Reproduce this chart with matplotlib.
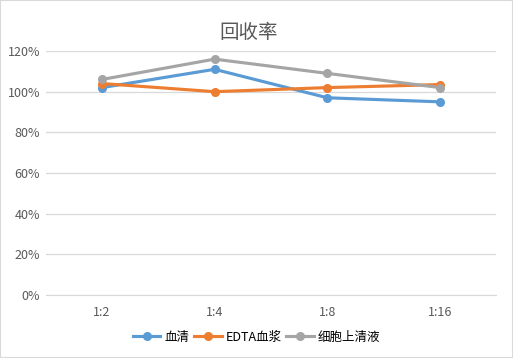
import matplotlib.pyplot as plt
from matplotlib.ticker import PercentFormatter

plt.rcParams['font.family'] = ['Noto Sans CJK SC', 'DejaVu Sans']

categories = ['1:2', '1:4', '1:8', '1:16']
serum = [102, 111, 97, 95]
edta_plasma = [104, 100, 102, 103.5]
supernatant = [106, 116, 109, 102]
series_names = ['血清', 'EDTA血浆', '细胞上清液']
colors = ['#5B9BD5', '#ED7D31', '#A5A5A5']

fig = plt.figure(figsize=(5.13, 3.58), dpi=100)
fig.patches.append(plt.Rectangle((0, 0), 1, 1, transform=fig.transFigure,
                                 fill=False, edgecolor='#D9D9D9', linewidth=1.5))
ax = fig.add_axes([0.0887, 0.176, 0.879, 0.6815])

x = range(len(categories))
for vals, name, c in zip([serum, edta_plasma, supernatant], series_names, colors):
    ax.plot(x, vals, '-o', color=c, linewidth=2.25, markersize=5.5, label=name)

ax.set_xlim(-0.5, len(categories) - 0.5)
ax.set_ylim(0, 120)
ax.set_yticks(range(0, 121, 20))
ax.yaxis.set_major_formatter(PercentFormatter(decimals=0))
ax.set_xticks(list(x))
ax.set_xticklabels(categories)
ax.tick_params(axis='both', length=0, labelsize=9, colors='#595959', pad=8)
ax.tick_params(axis='y', pad=4)
ax.grid(axis='y', color='#D9D9D9', linewidth=0.9)
ax.set_axisbelow(True)
for s in ['top', 'right', 'left']:
    ax.spines[s].set_visible(False)
ax.spines['bottom'].set_color('#D9D9D9')

fig.text(0.484, 0.91, '回收率', ha='center', va='center', fontsize=14, color='#595959')
fig.legend(loc='center', bbox_to_anchor=(0.5, 0.058), ncol=3, frameon=False,
           fontsize=9, handlelength=2.2, columnspacing=0.4, handletextpad=0.3)

fig.savefig('out.png', dpi=100)
